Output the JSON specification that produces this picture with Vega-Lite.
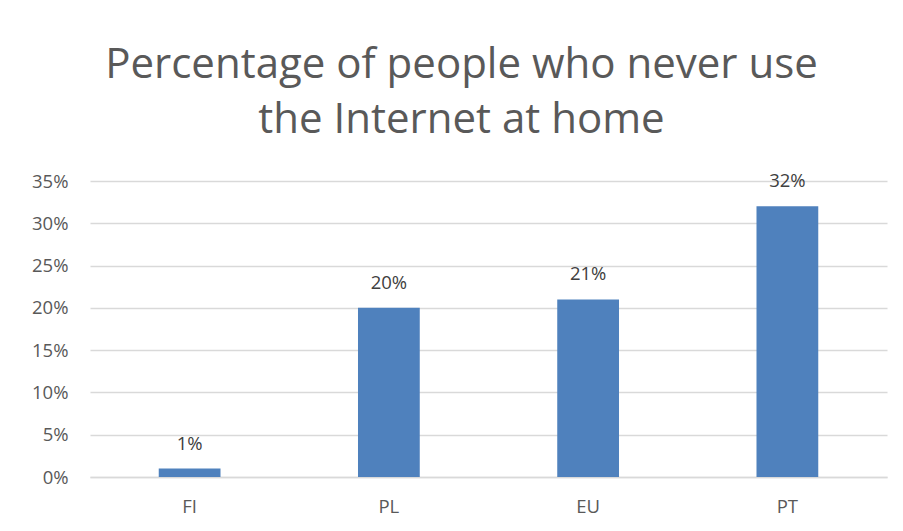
{
  "$schema": "https://vega.github.io/schema/vega-lite/v6.json",
  "autosize": {"type": "none"},
  "width": 797,
  "height": 296,
  "padding": {"left": 90, "top": 181, "right": 16, "bottom": 54},
  "background": "white",
  "config": {"view": {"stroke": null}, "font": "Open Sans"},
  "title": {
    "text": ["Percentage of people who never use", "the Internet at home"],
    "fontSize": 42,
    "fontWeight": "normal",
    "color": "#595959",
    "font": "Open Sans",
    "lineHeight": 55,
    "anchor": "middle",
    "frame": "group",
    "offset": 30,
    "dx": -27
  },
  "data": {
    "values": [
      {"country": "FI", "value": 0.01},
      {"country": "PL", "value": 0.20},
      {"country": "EU", "value": 0.21},
      {"country": "PT", "value": 0.32}
    ]
  },
  "encoding": {
    "x": {
      "field": "country", "type": "nominal", "sort": null,
      "scale": {"paddingInner": 0.69, "paddingOuter": 0.345},
      "axis": {"title": null, "labelAngle": 0, "labelFontSize": 18.5, "labelColor": "#595959", "ticks": false, "domainColor": "#d9d9d9", "domainWidth": 1.3, "labelPadding": 20}
    },
    "y": {
      "field": "value", "type": "quantitative",
      "scale": {"domain": [0, 0.35]},
      "axis": {"title": null, "format": ".0%", "values": [0, 0.05, 0.1, 0.15, 0.2, 0.25, 0.3, 0.35], "labelFontSize": 18.5, "labelColor": "#595959", "ticks": false, "domain": false, "gridColor": "#d9d9d9", "gridWidth": 1.3, "labelPadding": 22}
    }
  },
  "layer": [
    {"mark": {"type": "bar", "color": "#4f81bd"}},
    {
      "mark": {"type": "text", "dy": -25, "fontSize": 18.5, "color": "#404040"},
      "encoding": {"text": {"field": "value", "format": ".0%"}}
    }
  ]
}
